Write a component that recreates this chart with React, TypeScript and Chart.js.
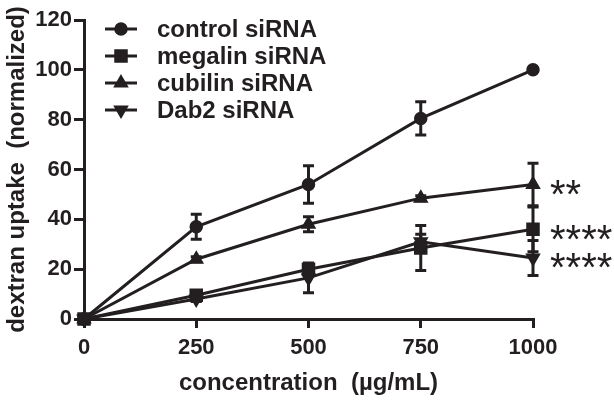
import React, { useEffect, useRef } from 'react';
import { Chart, registerables } from 'chart.js';

Chart.register(...registerables);

// ---- data ----
const concentrations = [0, 250, 500, 750, 1000];
const controlValues = [0, 37, 54, 80.5, 100];
const controlErrors = [0, 5, 7.5, 6.7, 0];
const megalinValues = [0, 9.5, 20, 28.5, 36];
const megalinErrors = [0, 1, 1.5, 9, 9];
const cubilinValues = [0, 24, 38, 48.5, 54];
const cubilinErrors = [0, 1, 3, 1, 8.5];
const dab2Values = [0, 8, 16.5, 31, 24.5];
const dab2Errors = [0, 1, 6, 3, 7];
const seriesLabels = ['control siRNA', 'megalin siRNA', 'cubilin siRNA', 'Dab2 siRNA'];
const significanceMarks = ['', '****', '**', '****'];
const xTickValues = [0, 250, 500, 750, 1000];
const yTickValues = [0, 20, 40, 60, 80, 100, 120];
const xTitle = 'concentration  (\u00b5g/mL)';
const yTitle = 'dextran uptake  (normalized)';

const INK = '#231f20';
const FONT = '"Liberation Sans", Arial, sans-serif';

type Shape = 'circle' | 'rect' | 'triangle' | 'down';
const shapes: Shape[] = ['circle', 'rect', 'triangle', 'down'];
const valueLists = [controlValues, megalinValues, cubilinValues, dab2Values];
const errorLists = [controlErrors, megalinErrors, cubilinErrors, dab2Errors];

function drawMarker(ctx: CanvasRenderingContext2D, shape: Shape, x: number, y: number, r: number) {
  ctx.beginPath();
  if (shape === 'circle') {
    ctx.arc(x, y, r, 0, Math.PI * 2);
  } else if (shape === 'rect') {
    const s = r * Math.SQRT1_2;
    ctx.rect(x - s, y - s, 2 * s, 2 * s);
  } else {
    const dir = shape === 'triangle' ? 1 : -1;
    ctx.moveTo(x, y - dir * r);
    ctx.lineTo(x + Math.sin((2 * Math.PI) / 3) * r, y + (dir * r) / 2);
    ctx.lineTo(x - Math.sin((2 * Math.PI) / 3) * r, y + (dir * r) / 2);
    ctx.closePath();
  }
  ctx.fillStyle = INK;
  ctx.fill();
  ctx.lineWidth = 1.5;
  ctx.strokeStyle = INK;
  ctx.stroke();
}

const errorBarPlugin = {
  id: 'errorBars',
  afterDatasetsDraw(chart: any) {
    const { ctx, scales } = chart;
    const xs = scales.x;
    const ys = scales.y;
    ctx.save();
    ctx.strokeStyle = INK;
    ctx.lineWidth = 3;
    valueLists.forEach((vals, i) => {
      const errs = errorLists[i];
      vals.forEach((v, j) => {
        const e = errs[j];
        if (!e) return;
        const x = xs.getPixelForValue(concentrations[j]);
        const yt = ys.getPixelForValue(v + e);
        const yb = ys.getPixelForValue(v - e);
        ctx.beginPath();
        ctx.moveTo(x, yt);
        ctx.lineTo(x, yb);
        ctx.moveTo(x - 5.5, yt);
        ctx.lineTo(x + 5.5, yt);
        ctx.moveTo(x - 5.5, yb);
        ctx.lineTo(x + 5.5, yb);
        ctx.stroke();
      });
    });
    ctx.restore();
  },
};

const annotationPlugin = {
  id: 'annotations',
  afterDraw(chart: any) {
    const { ctx, scales, chartArea } = chart;
    const xs = scales.x;
    const ys = scales.y;
    ctx.save();
    // significance asterisks
    ctx.fillStyle = INK;
    ctx.font = `40px ${FONT}`;
    ctx.textAlign = 'left';
    ctx.textBaseline = 'alphabetic';
    valueLists.forEach((vals, i) => {
      const mark = significanceMarks[i];
      if (!mark) return;
      const last = vals.length - 1;
      const x = xs.getPixelForValue(concentrations[last]) + 17;
      const y = ys.getPixelForValue(vals[last]);
      ctx.fillText(mark, x, y + 23.5);
    });
    // legend
    const lx = chartArea.left + 21;
    const rowH = 27;
    seriesLabels.forEach((label, i) => {
      const y = chartArea.top + 9 + i * rowH;
      ctx.strokeStyle = INK;
      ctx.lineWidth = 3;
      ctx.beginPath();
      ctx.moveTo(lx, y);
      ctx.lineTo(lx + 32, y);
      ctx.stroke();
      drawMarker(ctx, shapes[i], lx + 16, y, shapes[i] === 'circle' ? 6 : shapes[i] === 'rect' ? 8.5 : 7.5);
      ctx.fillStyle = INK;
      ctx.font = `bold 24px ${FONT}`;
      ctx.textBaseline = 'alphabetic';
      ctx.fillText(label, lx + 52, y + 8);
    });
    ctx.restore();
  },
};

export default function App() {
  const ref = useRef<HTMLCanvasElement | null>(null);
  useEffect(() => {
    if (!ref.current) return;
    const mk = (label: string, vals: number[], style: any, rot: number, radius: number) => ({
      label,
      data: vals.map((v, j) => ({ x: concentrations[j], y: v })),
      borderColor: INK,
      backgroundColor: INK,
      borderWidth: 3,
      pointStyle: style,
      pointRotation: rot,
      pointRadius: radius,
      pointBorderWidth: 1.5,
      pointBackgroundColor: INK,
      pointBorderColor: INK,
      tension: 0,
      clip: false,
    });
    const chart = new Chart(ref.current, {
      type: 'line',
      data: {
        datasets: [
          mk(seriesLabels[0], controlValues, 'circle', 0, 6),
          mk(seriesLabels[1], megalinValues, 'rect', 0, 8.5),
          mk(seriesLabels[2], cubilinValues, 'triangle', 0, 7.5),
          mk(seriesLabels[3], dab2Values, 'triangle', 180, 7.5),
        ],
      },
      options: {
        animation: false,
        responsive: false,
        devicePixelRatio: 1,
        layout: { padding: { top: 20, right: 81, left: 0, bottom: 0 } },
        plugins: { legend: { display: false }, tooltip: { enabled: false } },
        scales: {
          x: {
            type: 'linear',
            min: 0,
            max: 1000,
            afterBuildTicks: (s: any) => {
              s.ticks = xTickValues.map((v) => ({ value: v }));
            },
            afterFit: (s: any) => {
              s.height = 82;
            },
            border: { display: true, width: 3, color: INK },
            grid: { display: true, drawOnChartArea: false, drawTicks: true, tickLength: 9, lineWidth: 3, color: INK },
            ticks: {
              color: INK,
              font: { family: FONT, size: 22, weight: 'bold' },
              padding: 7,
              maxRotation: 0,
              callback: (v: any) => String(v),
            },
            title: {
              display: true,
              text: xTitle,
              color: INK,
              font: { family: FONT, size: 24, weight: 'bold' },
              padding: { top: 0, bottom: 3 },
            },
          },
          y: {
            type: 'linear',
            min: 0,
            max: 120,
            afterBuildTicks: (s: any) => {
              s.ticks = yTickValues.map((v) => ({ value: v }));
            },
            afterFit: (s: any) => {
              s.width = 84;
            },
            border: { display: true, width: 3, color: INK },
            grid: { display: true, drawOnChartArea: false, drawTicks: true, tickLength: 10, lineWidth: 3, color: INK },
            ticks: {
              color: INK,
              font: { family: FONT, size: 22, weight: 'bold' },
              padding: 2,
              callback: (v: any) => String(v),
            },
            title: {
              display: true,
              text: yTitle,
              color: INK,
              font: { family: FONT, size: 24, weight: 'bold' },
              padding: { top: 2.5, bottom: 0 },
            },
          },
        },
      },
      plugins: [errorBarPlugin, annotationPlugin],
    } as any);
    return () => chart.destroy();
  }, []);
  return (
    <div style={{ position: 'fixed', left: 0, top: 0, width: 614, height: 401, background: '#fff' }}>
      <canvas ref={ref} width={614} height={401} style={{ display: 'block' }} />
    </div>
  );
}
